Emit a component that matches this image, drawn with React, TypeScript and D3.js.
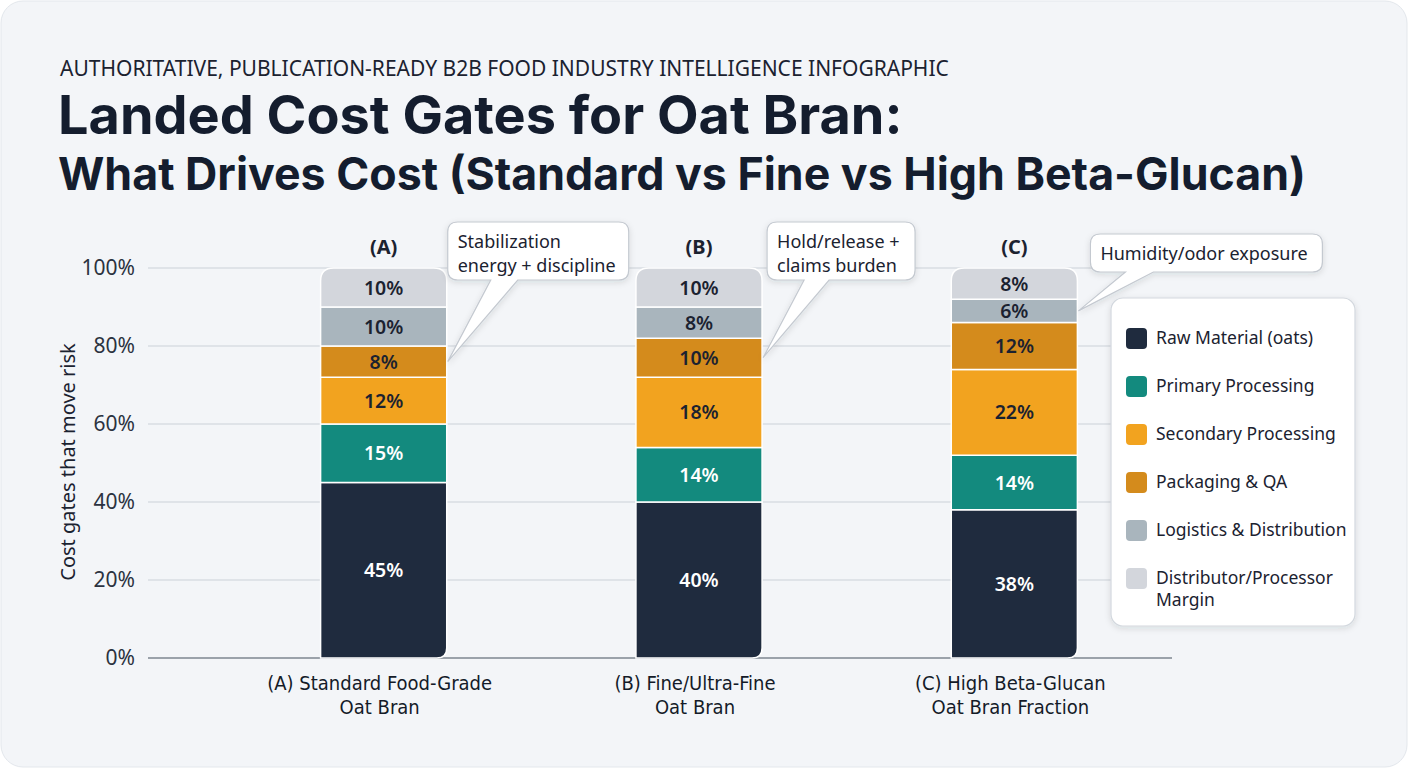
import * as d3 from "d3";
import { useEffect, useRef } from "react";

// Cost stack per oat bran grade, bottom to top (percent of landed cost)
const categories = ["A", "B", "C"];
const categoryLabels = [
    ["(A) Standard Food-Grade", "Oat Bran"],
    ["(B) Fine/Ultra-Fine", "Oat Bran"],
    ["(C) High Beta-Glucan", "Oat Bran Fraction"],
];
const segments = [
    "Raw Material (oats)",
    "Primary Processing",
    "Secondary Processing",
    "Packaging & QA",
    "Logistics & Distribution",
    "Distributor/Processor Margin",
];
const rawMaterial = [45, 40, 38];
const primaryProcessing = [15, 14, 14];
const secondaryProcessing = [12, 18, 22];
const packagingQA = [8, 10, 12];
const logistics = [10, 8, 6];
const margin = [10, 10, 8];
const yTicks = [0, 20, 40, 60, 80, 100];

// Callouts: which bar / segment they point at, and the note text
const callouts = [
    { cat: "A", seg: 3, lines: ["Stabilization", "energy + discipline"] },
    { cat: "B", seg: 3, lines: ["Hold/release +", "claims burden"] },
    { cat: "C", seg: 4, lines: ["Humidity/odor exposure"] },
];

const colors = ["#1f2b3e", "#138a7e", "#f2a31f", "#d48b1c", "#a9b5bd", "#d3d6dc"];
const labelColors = ["#ffffff", "#ffffff", "#1b2230", "#1b2230", "#1b2230", "#1b2230"];

const W = 1408;
const H = 768;
const FONT = "'Noto Sans', sans-serif";
const CONDENSED = "'DejaVu Sans Condensed', 'DejaVu Sans', sans-serif";

function App() {
    const ref = useRef<SVGSVGElement>(null);

    useEffect(() => {
        const svg = d3.select(ref.current);
        svg.selectAll("*").remove();

        const series = [rawMaterial, primaryProcessing, secondaryProcessing, packagingQA, logistics, margin];
        const rows = categories.map((c, i) => {
            const r: Record<string, any> = { cat: c };
            segments.forEach((s, j) => (r[s] = series[j][i]));
            return r;
        });
        const stacked = d3.stack<any>().keys(segments)(rows);

        const x = d3.scaleBand()
            .domain(categories)
            .range([226, 1172])
            .paddingInner(0.6)
            .paddingOuter(0.3);
        const y = d3.scaleLinear().domain([0, 100]).range([658, 268]);
        const bw = x.bandwidth();

        const defs = svg.append("defs");
        const shadow = defs.append("filter").attr("id", "shadow")
            .attr("x", "-20%").attr("y", "-20%").attr("width", "140%").attr("height", "150%");
        shadow.append("feDropShadow").attr("dx", 0).attr("dy", 2).attr("stdDeviation", 3)
            .attr("flood-color", "#1f2937").attr("flood-opacity", 0.12);

        // Card background
        svg.append("rect").attr("width", W).attr("height", H).attr("fill", "#ffffff");
        svg.append("rect")
            .attr("x", 1).attr("y", 1).attr("width", W - 2).attr("height", H - 2)
            .attr("rx", 22)
            .attr("fill", "#f3f5f8")
            .attr("stroke", "#e3e7ec");

        // Headings
        svg.append("text")
            .attr("x", 60).attr("y", 76)
            .attr("font-family", FONT).attr("font-size", 21).attr("fill", "#1b2230")
            .text("AUTHORITATIVE, PUBLICATION-READY B2B FOOD INDUSTRY INTELLIGENCE INFOGRAPHIC");
        svg.append("text")
            .attr("x", 58).attr("y", 134)
            .attr("font-family", "Inter, sans-serif").attr("font-weight", 700).attr("font-size", 54)
            .attr("fill", "#141d2e")
            .text("Landed Cost Gates for Oat Bran:");
        svg.append("text")
            .attr("x", 58).attr("y", 190)
            .attr("font-family", "Inter, sans-serif").attr("font-weight", 700).attr("font-size", 44.7)
            .attr("fill", "#141d2e")
            .text("What Drives Cost (Standard vs Fine vs High Beta-Glucan)");

        // Multi-line text as one element with tspans
        const multiline = (
            parent: d3.Selection<any, unknown, null, undefined>,
            lines: string[], x0: number, y0: number, lh: number,
        ) => {
            const t = parent.append("text").attr("x", x0).attr("y", y0);
            lines.forEach((line, k) => {
                t.append("tspan").attr("x", x0).attr("dy", k === 0 ? 0 : lh).text(line);
            });
            return t;
        };

        // Grid + y axis
        const g = svg.append("g");
        g.selectAll("line.grid")
            .data(yTicks.filter((t) => t > 0))
            .join("line")
            .attr("x1", 148).attr("x2", 1172)
            .attr("y1", (d) => y(d)).attr("y2", (d) => y(d))
            .attr("stroke", "#d9dde3").attr("stroke-width", 1.5);
        g.append("line")
            .attr("x1", 148).attr("x2", 1172)
            .attr("y1", y(0)).attr("y2", y(0))
            .attr("stroke", "#9ba2aa").attr("stroke-width", 2);
        g.selectAll("text.tick")
            .data(yTicks)
            .join("text")
            .attr("x", 135).attr("y", (d) => y(d) + 7)
            .attr("text-anchor", "end")
            .attr("font-family", FONT).attr("font-size", 21).attr("fill", "#2b3240")
            .text((d) => `${d}%`);
        g.append("text")
            .attr("transform", `translate(75,${y(50) - 1}) rotate(-90)`)
            .attr("text-anchor", "middle")
            .attr("font-family", FONT).attr("font-size", 20).attr("fill", "#1b2230")
            .text("Cost gates that move risk");

        // Stacked bars with rounded top and rounded bottom-right corner
        const segPath = (x0: number, y0: number, x1: number, y1: number, top: boolean, bottom: boolean) => {
            const rt = top ? 13 : 0;
            const rb = bottom ? 10 : 0;
            return `M${x0},${y1 + rt}` +
                (rt ? `Q${x0},${y1} ${x0 + rt},${y1}` : "") +
                `L${x1 - rt},${y1}` +
                (rt ? `Q${x1},${y1} ${x1},${y1 + rt}` : "") +
                `L${x1},${y0 - rb}` +
                (rb ? `Q${x1},${y0} ${x1 - rb},${y0}` : "") +
                `L${x0},${y0}Z`;
        };

        const bars = svg.append("g");
        stacked.forEach((layer, j) => {
            const lg = bars.append("g");
            layer.forEach((d) => {
                const cat = d.data.cat as string;
                const x0 = x(cat)!;
                lg.append("path")
                    .attr("d", segPath(x0, y(d[0]), x0 + bw, y(d[1]), j === segments.length - 1, j === 0))
                    .attr("fill", colors[j])
                    .attr("stroke", "#ffffff")
                    .attr("stroke-width", 1.5);
                lg.append("text")
                    .attr("x", x0 + bw / 2)
                    .attr("y", (y(d[0]) + y(d[1])) / 2 + 7)
                    .attr("text-anchor", "middle")
                    .attr("font-family", FONT).attr("font-size", 19.5).attr("font-weight", 600)
                    .attr("fill", labelColors[j])
                    .text(`${d[1] - d[0]}%`);
            });
        });

        // Column heads and category labels
        categories.forEach((c, i) => {
            const cx = x(c)! + bw / 2;
            svg.append("text")
                .attr("x", cx).attr("y", 254)
                .attr("text-anchor", "middle")
                .attr("font-family", FONT).attr("font-size", 20).attr("font-weight", 700)
                .attr("fill", "#1b2230")
                .text(`(${c})`);
            multiline(svg, categoryLabels[i], cx - 4, 690, 24)
                .attr("text-anchor", "middle")
                .attr("font-family", CONDENSED).attr("font-size", 20)
                .attr("fill", "#141b28");
        });

        // Callout bubbles pointing at a segment's right edge
        const boxes = [
            { dx: 1, top: 222, w: 181, h: 58, t0: 43, t1: 70 },
            { dx: 5, top: 222, w: 148, h: 58, t0: 37, t1: 62 },
            { dx: 13, top: 234, w: 232, h: 38, t0: 35, t1: 63 },
        ];
        callouts.forEach((co, i) => {
            const b = boxes[i];
            const layer = stacked[co.seg];
            const d = layer[categories.indexOf(co.cat)];
            const tipX = x(co.cat)! + bw + 1;
            const tipY = (y(d[0]) + y(d[1])) / 2;
            const bx = x(co.cat)! + bw + b.dx;
            const by = b.top;
            const r = 10;
            const bot = by + b.h;
            const p = `M${bx + r},${by}L${bx + b.w - r},${by}Q${bx + b.w},${by} ${bx + b.w},${by + r}` +
                `L${bx + b.w},${bot - r}Q${bx + b.w},${bot} ${bx + b.w - r},${bot}` +
                `L${bx + b.t1},${bot}L${tipX},${tipY}L${bx + b.t0},${bot}` +
                `L${bx + r},${bot}Q${bx},${bot} ${bx},${bot - r}L${bx},${by + r}Q${bx},${by} ${bx + r},${by}Z`;
            svg.append("path")
                .attr("d", p)
                .attr("fill", "#ffffff")
                .attr("stroke", "#c4c9d0")
                .attr("stroke-width", 1.2)
                .attr("filter", "url(#shadow)");
            multiline(svg, co.lines, bx + 10, by + 26, 24)
                .attr("font-family", FONT).attr("font-size", 18)
                .attr("fill", "#1b2230");
        });

        // Legend
        const lg = svg.append("g").attr("transform", "translate(1111,298)");
        lg.append("rect")
            .attr("width", 244).attr("height", 328).attr("rx", 12)
            .attr("fill", "#ffffff").attr("stroke", "#d3d8de").attr("stroke-width", 1.2)
            .attr("filter", "url(#shadow)");
        const legendLines = [
            ["Raw Material (oats)"],
            ["Primary Processing"],
            ["Secondary Processing"],
            ["Packaging & QA"],
            ["Logistics & Distribution"],
            ["Distributor/Processor", "Margin"],
        ];
        segments.forEach((s, j) => {
            const cy = 40 + j * 48;
            lg.append("rect")
                .attr("x", 15).attr("y", cy - 10).attr("width", 21).attr("height", 21).attr("rx", 4)
                .attr("fill", colors[j]);
            multiline(lg, legendLines[j], 45, cy + 6, 22)
                .attr("font-family", FONT).attr("font-size", 17.5)
                .attr("fill", "#1b2230");
        });
    }, []);

    return <svg ref={ref} width={W} height={H} style={{ position: "absolute", left: 0, top: 0 }} />;
}

export default App;
